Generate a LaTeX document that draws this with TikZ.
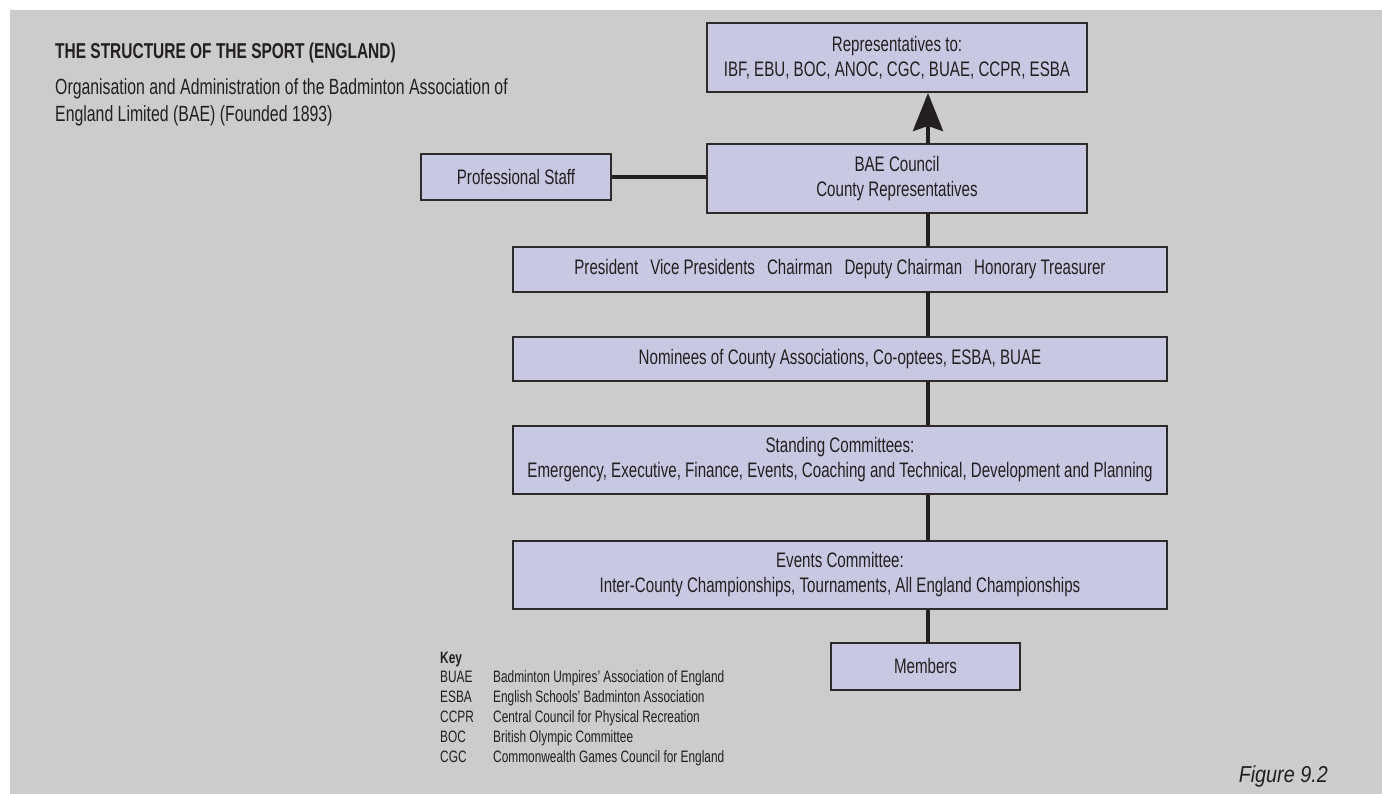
\documentclass[tikz,border=0pt]{standalone}
\usepackage{fontspec}
\setmainfont{Liberation Sans}[FakeStretch=0.72]
\newfontfamily\figurefont{Liberation Sans}[FakeStretch=0.86]
\usetikzlibrary{arrows.meta}
\definecolor{panel}{RGB}{204,204,204}
\definecolor{boxfill}{RGB}{200,200,227}
\definecolor{ink}{RGB}{35,31,32}
\definecolor{edge}{RGB}{45,42,44}

\tikzset{
  orgbox/.style={draw=edge, line width=2pt, fill=boxfill, text=ink, align=center,
                 inner sep=0pt, font=\fontsize{21}{25}\selectfont},
  widebox/.style={orgbox, minimum width=654pt},
  link/.style={draw=ink, line width=4pt},
  headtext/.style={text=ink, inner sep=0pt, anchor=base west},
  keytext/.style={text=ink, inner sep=0pt, anchor=base west,
                  font=\fontsize{16.5}{20}\selectfont},
}

\begin{document}
\begin{tikzpicture}[x=1pt, y=-1pt]
\useasboundingbox (0,0) rectangle (1382,794);
\fill[panel] (10,10) rectangle (1382,794);

% heading
\node[headtext, font=\fontsize{21.5}{25}\selectfont\bfseries] (title) at (55,59)
  {THE STRUCTURE OF THE SPORT (ENGLAND)};
\node[headtext, font=\fontsize{22}{26}\selectfont] (subtitle) at (55,95)
  {Organisation and Administration of the Badminton Association of};
\node[headtext, font=\fontsize{22}{26}\selectfont] (subtitle2) at (55,122)
  {England Limited (BAE) (Founded 1893)};

% organisation chart
\coordinate (spine) at (928,0);
\node[orgbox, minimum width=380pt, minimum height=69pt] (reps) at (897,57.5)
  {Representatives to:\\IBF, EBU, BOC, ANOC, CGC, BUAE, CCPR, ESBA};
\node[orgbox, minimum width=380pt, minimum height=69pt] (council) at (897,178.5)
  {BAE Council\\County Representatives};
\node[orgbox, minimum width=190pt, minimum height=46pt] (staff) at (516,177)
  {Professional Staff};
\node[widebox, minimum height=45pt] (officers) at (840,269.5)
  {President\hspace{12pt}Vice Presidents\hspace{12pt}Chairman\hspace{12pt}Deputy Chairman\hspace{12pt}Honorary Treasurer};
\node[widebox, minimum height=43pt] (nominees) at (840,359)
  {Nominees of County Associations, Co-optees, ESBA, BUAE};
\node[widebox, minimum height=68pt] (standing) at (840,460)
  {Standing Committees:\\Emergency, Executive, Finance, Events, Coaching and Technical, Development and Planning};
\node[widebox, minimum height=68pt] (events) at (840,575)
  {Events Committee:\\Inter-County Championships, Tournaments, All England Championships};
\node[orgbox, minimum width=189pt, minimum height=47pt] (members) at (925.5,666)
  {Members};

\draw[link, -{Stealth[length=38pt, width=30pt, inset=5pt]}]
  (council.north -| spine) -- (reps.south -| spine);
\draw[link] (staff.east) -- (staff.east -| council.west);
\draw[link] (council.south -| spine) -- (officers.north -| spine);
\draw[link] (officers.south -| spine) -- (nominees.north -| spine);
\draw[link] (nominees.south -| spine) -- (standing.north -| spine);
\draw[link] (standing.south -| spine) -- (events.north -| spine);
\draw[link] (events.south -| spine) -- (members.north -| spine);

% key
\node[keytext, font=\fontsize{16.5}{20}\selectfont\bfseries] (key) at (440,663) {Key};
\foreach \abbr/\full [count=\i] in {
    BUAE/Badminton Umpires’ Association of England,
    ESBA/English Schools’ Badminton Association,
    CCPR/Central Council for Physical Recreation,
    BOC/British Olympic Committee,
    CGC/Commonwealth Games Council for England} {
  \node[keytext] (abbr-\i) at (440,662+20*\i) {\abbr};
  \node[keytext] (full-\i) at (493,662+20*\i) {\full};
}

\node[text=ink, inner sep=0pt, anchor=base east, font=\figurefont\fontsize{23}{26}\selectfont\itshape]
  (figno) at (1328,782) {Figure 9.2};
\end{tikzpicture}
\end{document}
